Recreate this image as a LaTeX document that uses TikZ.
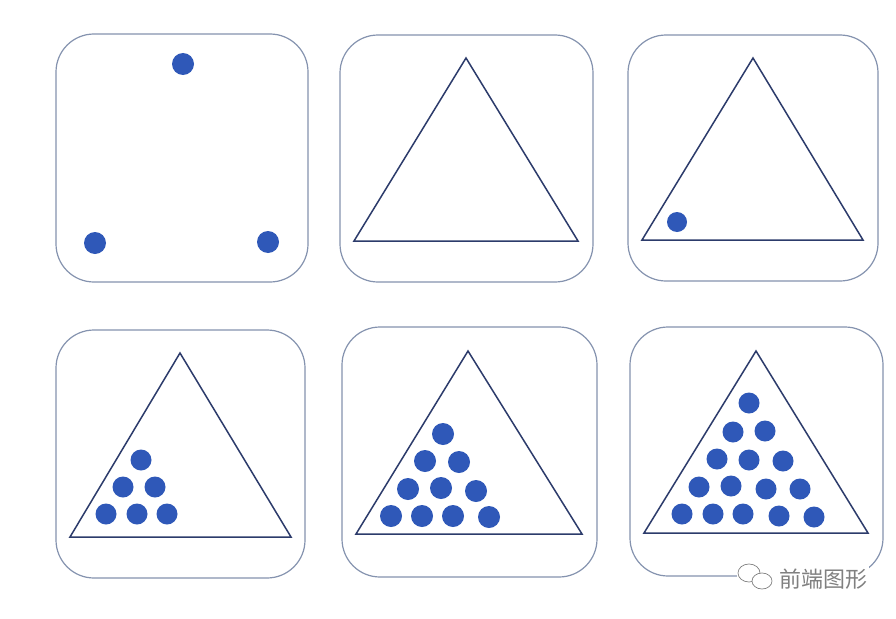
\documentclass[tikz,border=0pt]{standalone}
\usepackage{fontspec}
\newfontfamily\cjk{Noto Sans CJK SC}
\definecolor{boxc}{HTML}{8593AF}
\definecolor{tric}{HTML}{2C3B6B}
\definecolor{dotc}{HTML}{2F58B8}
\definecolor{wmc}{HTML}{808080}
\begin{document}
\begin{tikzpicture}[x=1pt,y=-1pt,
  panel/.style={draw=boxc,line width=1.2pt,rounded corners=38pt},
  tri/.style={draw=tric,line width=1.5pt,line join=miter},
  dot/.style={fill=dotc}]
\useasboundingbox[fill=white] (0,0) rectangle (896,618);
% panel 1
\draw[panel] (56,34) rectangle (308,282);
\fill[dot] (183,64) circle (11);
\fill[dot] (95,243) circle (11);
\fill[dot] (268,242) circle (11);
% panel 2
\draw[panel] (340,35) rectangle (593,282);
\draw[tri] (466,58) -- (578,241) -- (354,241) -- cycle;
% panel 3
\draw[panel] (628,35) rectangle (878,281);
\draw[tri] (753,58) -- (863,240) -- (642,240) -- cycle;
\fill[dot] (677,222) circle (10);
% panel 4
\draw[panel] (56,330) rectangle (305,578);
\draw[tri] (180,353) -- (291,537) -- (70,537) -- cycle;
\foreach \p in {(141,460),(123,487),(155,487),(106,514),(137,514),(167,514)}
  \fill[dot] \p circle (10.5);
% panel 5
\draw[panel] (342,327) rectangle (597,577);
\draw[tri] (468,351) -- (582,534) -- (356,534) -- cycle;
\foreach \p in {(443,434),(425,461),(459,462),(408,489),(441,488),(476,491),(391,516),(422,516),(453,516),(489,517)}
  \fill[dot] \p circle (11);
% panel 6
\draw[panel] (630,327) rectangle (883,576);
\draw[tri] (756,351) -- (868,533) -- (644,533) -- cycle;
\foreach \p in {(749,403),(733,432),(765,431),(717,459),(749,460),(783,461),(699,487),(731,486),(766,489),(800,489),(682,514),(713,514),(743,514),(779,516),(814,517)}
  \fill[dot] \p circle (10.5);
% watermark
\fill[white] (737,562) rectangle (869,598);
\draw[wmc,line width=0.7pt,fill=white] (749,573) ellipse (11 and 9);
\draw[wmc,line width=0.7pt,fill=white] (762,581) ellipse (10 and 8);
\node[text=wmc,font=\cjk\fontsize{22}{24}\selectfont,inner sep=0pt,anchor=west] (wm) at (779,579) {前端图形};
\end{tikzpicture}
\end{document}
